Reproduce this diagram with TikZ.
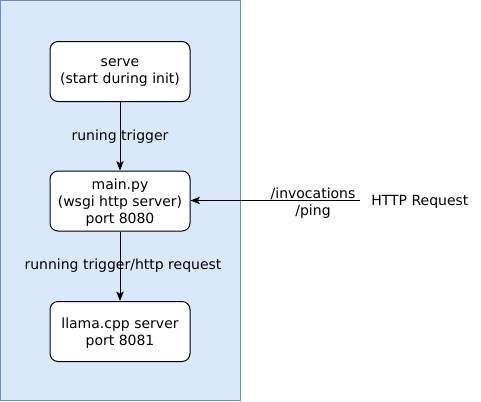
\documentclass[tikz,border=0pt]{standalone}
\usepackage{fontspec}
\setmainfont{DejaVu Sans}
\usetikzlibrary{arrows.meta}
\definecolor{bgfill}{HTML}{DAE8FC}
\definecolor{bgline}{HTML}{6C8EBF}
\begin{document}
\begin{tikzpicture}[x=0.75pt,y=-0.75pt,
  box/.style={draw=black,line width=0.75pt,fill=white,rounded corners=6pt,minimum width=105pt,minimum height=45pt,align=center,inner sep=0pt,text depth=0pt,font=\fontsize{10.5pt}{12.75pt}\selectfont},
  lbl/.style={align=center,font=\fontsize{10.5pt}{12.75pt}\selectfont,inner sep=0pt,yshift=-1.5pt},
  conn/.style={draw=black,line width=0.75pt,-{Stealth[length=7pt,width=5.5pt,inset=1.5pt]}}]
\useasboundingbox (0,0) rectangle (481,401);
\draw[fill=bgfill,draw=bgline,line width=0.75pt] (0.5,0.5) rectangle (240.5,400.5);
\node[box] (serve) at (120,71.5) {serve\\(start during init)};
\node[box] (main) at (120,201) {main.py\\(wsgi http server)\\port 8080};
\node[box] (llama) at (120,331.5) {llama.cpp server\\port 8081};
\coordinate (src) at (360,200.5);
\draw[conn] (serve) -- (main);
\draw[conn] (main) -- (llama);
\draw[conn] (src) -- (main.east |- src);
\node[lbl] (l1) at (120,135) {runing trigger};
\node[lbl] (l2) at (123,264) {running trigger/http request};
\node[lbl] (l3) at (313,201) {/invocations\\/ping};
\node[lbl,anchor=west] (req) at (371,200) {HTTP Request};
\end{tikzpicture}
\end{document}
